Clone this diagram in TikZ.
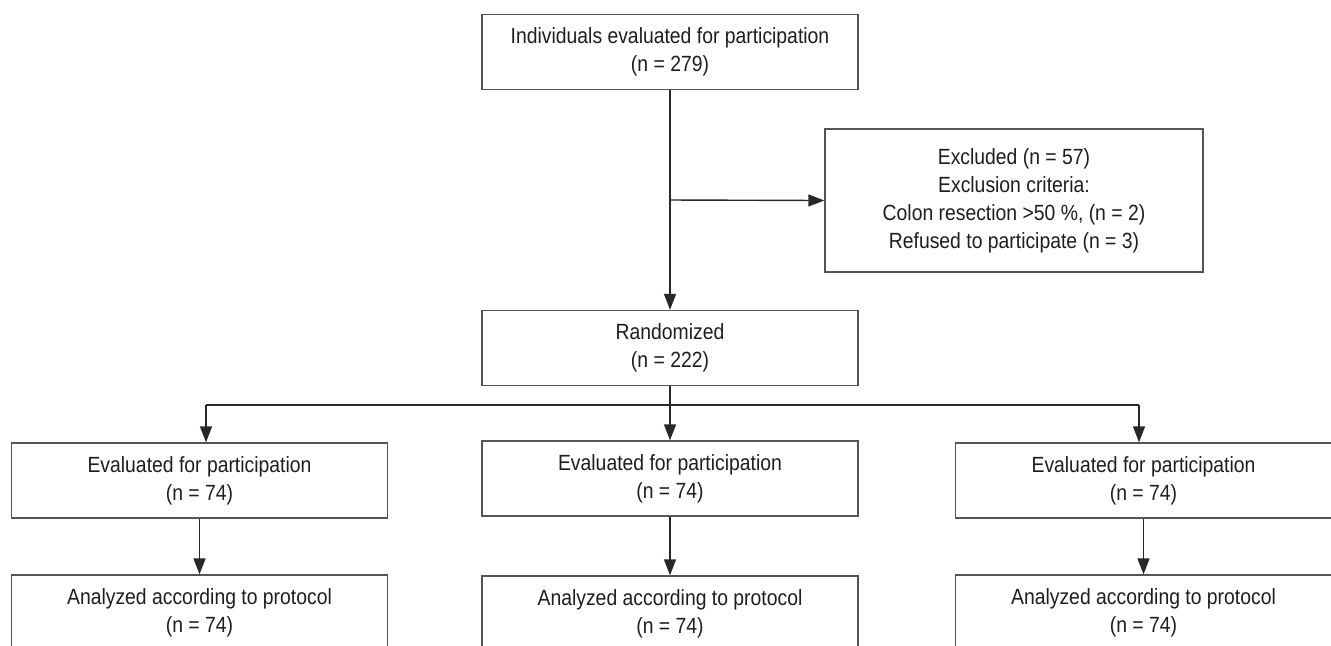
\documentclass[tikz,border=0pt]{standalone}
\usepackage{fontspec}
\setmainfont[FakeStretch=0.88]{Liberation Sans}
\usepackage{xcolor}
\definecolor{fcline}{RGB}{40,40,40}
\definecolor{fcframe}{RGB}{85,85,85}
\definecolor{fctext}{RGB}{30,30,30}
\usetikzlibrary{arrows.meta,positioning}

\begin{document}
\begin{tikzpicture}[x=0.5pt, y=-0.5pt,
  every node/.style={font=\fontsize{11}{14}\selectfont, text=fctext},
  flowbox/.style={draw=fcframe, line width=0.7pt, fill=white, align=center,
    minimum width=188pt, minimum height=37.5pt, inner sep=2pt},
  arr/.style={fcline, line width=0.7pt, -{Triangle[length=8pt, width=6pt]}},
  link/.style={fcline, line width=0.7pt}]

\clip (0,0) rectangle (1331,645);
\fill[white] (0,0) rectangle (1331,645);

\node[flowbox] (indiv) at (670,52) {Individuals evaluated for participation\\(n = 279)};

\node[flowbox, minimum width=189pt, minimum height=71.5pt] (excl) at (1014,200.5) {%
  Excluded (n = 57)\\
  Exclusion criteria:\\
  Colon resection >50 \%, (n = 2)\\
  Refused to participate (n = 3)};

\node[flowbox] (rand) at (670,348) {Randomized\\(n = 222)};

% Study arms
\node[flowbox] (eval1) at (199.5,480.5) {Evaluated for participation\\(n = 74)};
\node[flowbox] (eval2) at (670,478.5) {Evaluated for participation\\(n = 74)};
\node[flowbox] (eval3) at (1143.5,480.5) {Evaluated for participation\\(n = 74)};

\node[flowbox] (anal1) at (199.5,612.5) {Analyzed according to protocol\\(n = 74)};
\node[flowbox] (anal2) at (670,613.5) {Analyzed according to protocol\\(n = 74)};
\node[flowbox] (anal3) at (1143.5,612.5) {Analyzed according to protocol\\(n = 74)};

% Connecting lines
\coordinate (split) at (670,200);
\coordinate (bl) at (206,405);
\coordinate (br) at (1139,405);

\draw[arr] (indiv.south) -- (rand.north);
\draw[arr] (split) -- (excl.west);

\draw[link] (bl) -- (br);
\draw[arr] (rand.south) -- (eval2.north);
\draw[arr] (bl) -- (bl |- eval1.north);
\draw[arr] (br) -- (br |- eval3.north);

\draw[arr] (eval1.south) -- (anal1.north);
\draw[arr] (eval2.south) -- (anal2.north);
\draw[arr] (eval3.south) -- (anal3.north);

\end{tikzpicture}
\end{document}
